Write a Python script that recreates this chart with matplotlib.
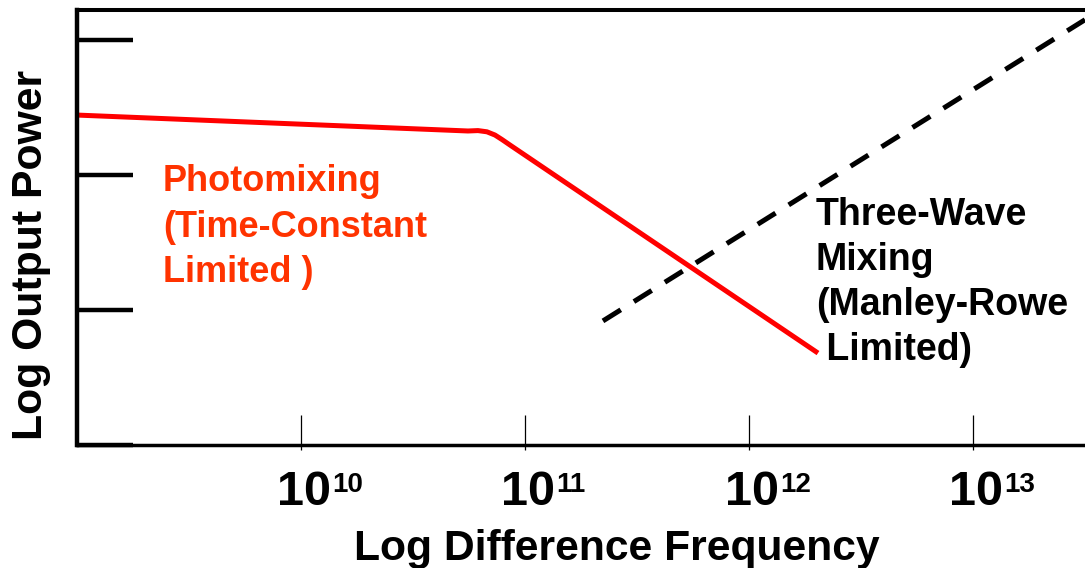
import numpy as np
import matplotlib
matplotlib.use('Agg')
import matplotlib.pyplot as plt
from matplotlib.ticker import FixedLocator, NullFormatter
from matplotlib.transforms import blended_transform_factory, ScaledTranslation

#######################################################################################
# Data (log10 of difference frequency in Hz, output power in log decades)
photomix_logf = [9.0, 10.7455, 10.790, 10.830, 10.866, 10.897, 10.933, 12.308]
photomix_pow = [2.444, 2.326, 2.329, 2.320, 2.296, 2.263, 2.222, 0.681]

threewave_logf = [11.348, 13.5]
threewave_pow = [0.919, 3.15]

xtick_exp = [10, 11, 12, 13]
ytick_pos = [0, 1, 2, 3]

photomix_text = 'Photomixing\n(Time-Constant\nLimited )'
threewave_text = 'Three-Wave\nMixing\n(Manley-Rowe\n Limited)'
#######################################################################################

plt.rcParams['font.family'] = ['Liberation Sans', 'DejaVu Sans']
plt.rcParams['font.weight'] = 'bold'

fig = plt.figure(figsize=(10.85, 5.68), dpi=100)
ax = fig.add_axes([77 / 1085, 123 / 568, 1008 / 1085, 435 / 568])

# Curves
ax.plot(10 ** np.array(photomix_logf), photomix_pow, color='#ff0000', lw=3.6,
        solid_capstyle='butt', solid_joinstyle='round')
ax.plot(10 ** np.array(threewave_logf), threewave_pow, color='black', lw=3.6,
        linestyle=(0, (4.2, 3.1)), dash_capstyle='butt')

ax.set_xscale('log')
ax.set_xlim(1e9, 10 ** 13.5)
ax.set_ylim(0, 435 / 135)

# Spines
ax.spines['right'].set_visible(False)
ax.spines['left'].set_linewidth(3.2)
ax.spines['top'].set_linewidth(2.9)
ax.spines['bottom'].set_linewidth(2.5)

# X ticks: long inward major, short outward minor at same places
xtick_pos = [10.0 ** e for e in xtick_exp]
ax.xaxis.set_major_locator(FixedLocator(xtick_pos))
ax.xaxis.set_major_formatter(NullFormatter())
ax.xaxis.remove_overlapping_locs = False
ax.xaxis.set_minor_locator(FixedLocator(xtick_pos))
ax.xaxis.set_minor_formatter(NullFormatter())
ax.tick_params(axis='x', which='major', direction='in', length=21.5, width=0.9)
ax.tick_params(axis='x', which='minor', direction='out', length=3.5, width=0.9)

# X tick labels as base "10" plus a raised exponent
trans_base = blended_transform_factory(ax.transData, fig.transFigure)
for e, f in zip(xtick_exp, xtick_pos):
    t_main = trans_base + ScaledTranslation(0.025, 0, fig.dpi_scale_trans)
    t_exp = trans_base + ScaledTranslation(0.31, 0, fig.dpi_scale_trans)
    fig.text(f, 63 / 568, '10', transform=t_main, fontsize=35,
             fontweight='bold', ha='center', va='baseline')
    fig.text(f, 76 / 568, str(e), transform=t_exp, fontsize=20,
             fontweight='bold', ha='left', va='baseline')

# Y ticks: long inward bars, no labels
ax.yaxis.set_major_locator(FixedLocator(ytick_pos))
ax.yaxis.set_minor_locator(FixedLocator([]))
ax.tick_params(axis='y', which='major', direction='in', length=40, width=3.2,
               labelleft=False)

# Annotations
ax.text(10 ** (9 + (163 - 77) / 224), (445 - 164) / 135, photomix_text,
        color='#ff3300', fontsize=26, fontweight='bold', ha='left', va='top',
        linespacing=1.39)
ax.text(10 ** (9 + (816 - 77) / 224), (445 - 197) / 135, threewave_text,
        color='black', fontsize=27, fontweight='bold', ha='left', va='top',
        linespacing=1.32)

# Axis titles
fig.text(617 / 1085, 8 / 568, 'Log Difference Frequency', fontsize=30.7,
         fontweight='bold', ha='center', va='baseline')
fig.text(31 / 1085, 1 - 255 / 568, 'Log Output Power', fontsize=30.8,
         fontweight='bold', ha='center', va='center', rotation=90)

fig.savefig('out.png', dpi=100)
